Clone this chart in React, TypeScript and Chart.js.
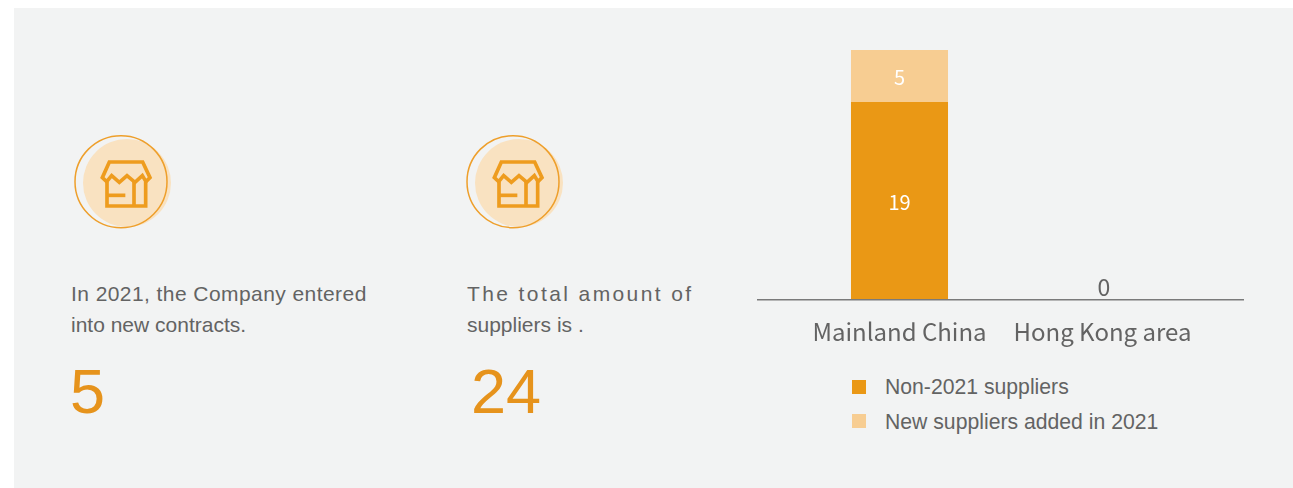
import React, { useEffect, useRef } from "react";
import { Chart, registerables } from "chart.js";

Chart.register(...registerables);

const regions = ["Mainland China", "Hong Kong area"];
const seriesNames = ["Non-2021 suppliers", "New suppliers added in 2021"];
const existingSuppliers = [19, 0];
const newSuppliers = [5, 0];
const seriesColors = ["#ea9815", "#f7cd92"];

const contractsText = ["In 2021, the Company entered", "into new contracts."];
const contractsValue = "5";
const suppliersText = ["The total amount of", "suppliers is ."];
const suppliersValue = "24";

const GREY = "#636363";
const ACCENT = "#e6931c";

// Baseline spans the whole canvas, wider than the category band.
const baselinePlugin = {
  id: "baseline",
  afterDatasetsDraw(chart: any) {
    const { ctx, width, scales } = chart;
    const y = Math.round(scales.y.getPixelForValue(0)) - 0.25;
    ctx.save();
    ctx.strokeStyle = "#7a7a7a";
    ctx.lineWidth = 1.5;
    ctx.beginPath();
    ctx.moveTo(0, y);
    ctx.lineTo(width, y);
    ctx.stroke();
    ctx.restore();
  },
};

// Value labels: white inside a segment, grey above the axis for an empty stack.
const valueLabelPlugin = {
  id: "valueLabels",
  afterDatasetsDraw(chart: any) {
    const { ctx, scales } = chart;
    ctx.save();
    ctx.textAlign = "center";
    ctx.textBaseline = "middle";
    chart.data.datasets.forEach((ds: any, di: number) => {
      chart.getDatasetMeta(di).data.forEach((bar: any, i: number) => {
        const v = ds.data[i];
        if (v > 0) {
          ctx.font = '20px "Noto Sans CJK SC"';
          ctx.fillStyle = "#ffffff";
          ctx.fillText(String(v), bar.x, (bar.y + bar.base) / 2 + 1);
        }
      });
    });
    regions.forEach((_, i) => {
      const total = existingSuppliers[i] + newSuppliers[i];
      if (total === 0) {
        ctx.font = '23px "Noto Sans CJK SC"';
        ctx.fillStyle = GREY;
        ctx.fillText("0", scales.x.getPixelForValue(i) + 1.5, scales.y.getPixelForValue(0) - 13);
      }
    });
    ctx.restore();
  },
};

function ShopIcon({ left }: { left: number }) {
  return (
    <svg
      width={120}
      height={115}
      viewBox="0 0 360 345"
      style={{ position: "absolute", left, top: 125 }}
    >
      <circle cx={201} cy={174} r={132} fill="#f9e2c1" />
      <circle cx={183} cy={170} r={138} fill="none" stroke="#ee9f2b" strokeWidth={4.5} />
      <g fill="none" stroke="#ee9c1e" strokeWidth={11}>
        <path d="M148 111 H248 L270 158 L258 170 L247 152 L225 172 L201 152 L178 172 L155 152 L140 170 L127 158 Z" />
        <path d="M141 170 V243 H257 V170" />
        <path d="M222 168 V243" />
        <path d="M142 211 H196" />
      </g>
    </svg>
  );
}

function Stat({
  left,
  lines,
  value,
  valueLeft,
  spacing,
}: {
  left: number;
  lines: string[];
  value: string;
  valueLeft: number;
  spacing: number[];
}) {
  const font = '"Liberation Sans", Arial, sans-serif';
  return (
    <>
      {lines.map((line, i) => (
        <div
          key={i}
          style={{
            position: "absolute",
            left,
            top: 281 + i * 31,
            font: `21px/26px ${font}`,
            letterSpacing: spacing[i],
            color: GREY,
            whiteSpace: "nowrap",
          }}
        >
          {line}
        </div>
      ))}
      <div
        style={{
          position: "absolute",
          left: valueLeft,
          top: 351,
          font: `63px/80px ${font}`,
          color: ACCENT,
        }}
      >
        {value}
      </div>
    </>
  );
}

export default function App() {
  const canvasRef = useRef<HTMLCanvasElement>(null);

  useEffect(() => {
    const chart = new Chart(canvasRef.current!, {
      type: "bar",
      data: {
        labels: regions,
        datasets: [
          { label: seriesNames[0], data: existingSuppliers, backgroundColor: seriesColors[0] },
          { label: seriesNames[1], data: newSuppliers, backgroundColor: seriesColors[1] },
        ],
      },
      options: {
        animation: false,
        responsive: false,
        layout: { padding: { left: 41, right: 40, top: 20, bottom: 0 } },
        datasets: { bar: { categoryPercentage: 1, barPercentage: 0.478 } },
        plugins: { legend: { display: false }, tooltip: { enabled: false } },
        scales: {
          x: {
            stacked: true,
            grid: { display: false },
            border: { display: false },
            afterFit(scale: any) {
              scale.height = 70;
            },
            ticks: {
              color: GREY,
              padding: 9,
              maxRotation: 0,
              autoSkip: false,
              font: { family: '"Noto Sans CJK SC"', size: 24 },
            },
          },
          y: { stacked: true, display: false, min: 0, max: 24 },
        },
      },
      plugins: [baselinePlugin, valueLabelPlugin],
    } as any);
    return () => chart.destroy();
  }, []);

  return (
    <div style={{ position: "fixed", inset: 0, background: "#ffffff", overflow: "hidden" }}>
      <div
        style={{
          position: "absolute",
          left: 14,
          top: 8,
          width: 1279,
          height: 480,
          background: "#f2f3f3",
        }}
      />
      <ShopIcon left={60} />
      <ShopIcon left={452} />
      <Stat left={71} lines={contractsText} value={contractsValue} valueLeft={70} spacing={[0.43, 0]} />
      <Stat left={467} lines={suppliersText} value={suppliersValue} valueLeft={471} spacing={[2.4, 0]} />
      <canvas
        ref={canvasRef}
        width={487}
        height={340}
        style={{ position: "absolute", left: 757, top: 30, width: 487, height: 340 }}
      />
      {seriesNames.map((name, i) => (
        <div key={name}>
          <div
            style={{
              position: "absolute",
              left: 852,
              top: 380 + i * 34,
              width: 14,
              height: 14,
              background: seriesColors[i],
            }}
          />
          <div
            style={{
              position: "absolute",
              left: 885,
              top: 374 + i * 35,
              font: '21.2px/26px "Liberation Sans", Arial, sans-serif',
              color: GREY,
              whiteSpace: "nowrap",
            }}
          >
            {name}
          </div>
        </div>
      ))}
    </div>
  );
}
